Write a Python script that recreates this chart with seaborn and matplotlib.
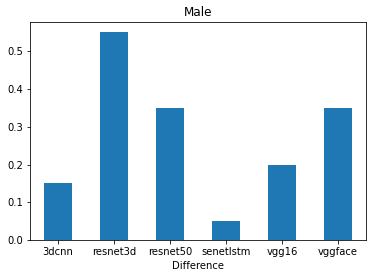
import pandas as pd
import seaborn as sns
import matplotlib
matplotlib.use("Agg")
import matplotlib.pyplot as plt

# data
models = ["3dcnn", "resnet3d", "resnet50", "senetlstm", "vgg16", "vggface"]
difference = [0.15, 0.55, 0.35, 0.05, 0.20, 0.35]

df = pd.DataFrame({"model": models, "value": difference})

fig = plt.figure(figsize=(372 / 72, 278 / 72), dpi=72)
ax = fig.add_axes([30 / 372, 38 / 278, 336 / 372, 218 / 278])
sns.barplot(data=df, x="model", y="value", color="#1f77b4", saturation=1,
            width=0.5, ax=ax)
ax.set_xlim(-0.5, 5.5)
ax.set_ylim(0, 0.5775)
ax.set_title("Male", fontsize=12)
ax.set_xlabel("Difference", fontsize=10)
ax.set_ylabel("")
ax.tick_params(labelsize=10)
fig.savefig("out.png", dpi=72)
